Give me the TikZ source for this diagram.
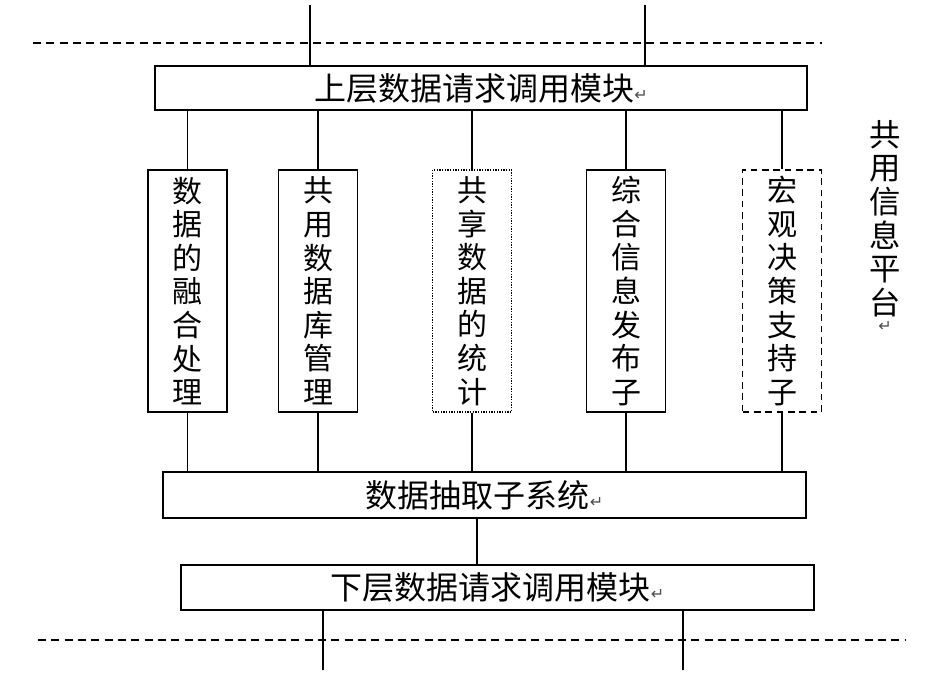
\documentclass[tikz,border=0pt]{standalone}
\usepackage{fontspec}
\setmainfont{Noto Sans CJK SC}
\newfontfamily\symfont{DejaVu Sans}
\usetikzlibrary{positioning}
\newcommand{\parmark}{{\symfont\fontsize{12}{12}\selectfont\color{black!70}↵}}

\begin{document}
\begin{tikzpicture}[x=0.75pt,y=-0.75pt,
wide/.style={draw,line width=1.1pt,inner sep=0pt,font=\fontsize{24}{24}\selectfont},
tall/.style={draw,line width=1.1pt,inner sep=0pt,minimum width=59.25pt,minimum height=181.5pt,
  align=center,font=\fontsize{22.5}{25.2}\selectfont},
link/.style={line width=0.9pt},
sep/.style={line width=1.1pt,dash pattern=on 6pt off 4pt}]
\useasboundingbox (0,0) rectangle (936,692);

\node[wide,minimum width=489pt,minimum height=33pt] (upper) at (481,88) {上层数据请求调用模块\parmark};
\node[tall] (fuse) at (187.5,291) {数\\据\\的\\融\\合\\处\\理};
\node[tall] (dbm)  at (318,291)   {共\\用\\数\\据\\库\\管\\理};
\node[tall,dash pattern=on 1pt off 1pt,line width=0.8pt] (stat) at (472,291) {共\\享\\数\\据\\的\\统\\计};
\node[tall] (pub)  at (626,291)   {综\\合\\信\\息\\发\\布\\子};
\node[tall,dash pattern=on 5pt off 3.5pt] (dss) at (782,291) {宏\\观\\决\\策\\支\\持\\子};
\node[wide,minimum width=482.25pt,minimum height=34.5pt] (extract) at (484.5,495) {数据抽取子系统\parmark};
\node[wide,minimum width=474.75pt,minimum height=33.75pt] (lower) at (497.5,587.5) {下层数据请求调用模块\parmark};
\node[align=center,inner sep=0pt,font=\fontsize{23.5}{25.2}\selectfont] (platform) at (885,226)
  {共\\用\\信\\息\\平\\台\\[-12pt]\parmark};

\coordinate (in1) at (310,5);
\coordinate (in2) at (645,5);
\coordinate (out1) at (323,670);
\coordinate (out2) at (683,670);
\coordinate (mid) at (477,0);

\draw[sep] (33,43) -- (822,43);
\draw[sep] (38,640) -- (905,640);

\draw[link] (in1) -- (in1 |- upper.north);
\draw[link] (in2) -- (in2 |- upper.north);
\foreach \n in {fuse,dbm,stat,pub,dss}{
  \draw[link] (\n.north) -- (\n.north |- upper.south);
  \draw[link] (\n.south) -- (\n.south |- extract.north);
}
\draw[link] (extract.south -| mid) -- (lower.north -| mid);
\draw[link] (lower.south -| out1) -- (out1);
\draw[link] (lower.south -| out2) -- (out2);
\end{tikzpicture}
\end{document}
